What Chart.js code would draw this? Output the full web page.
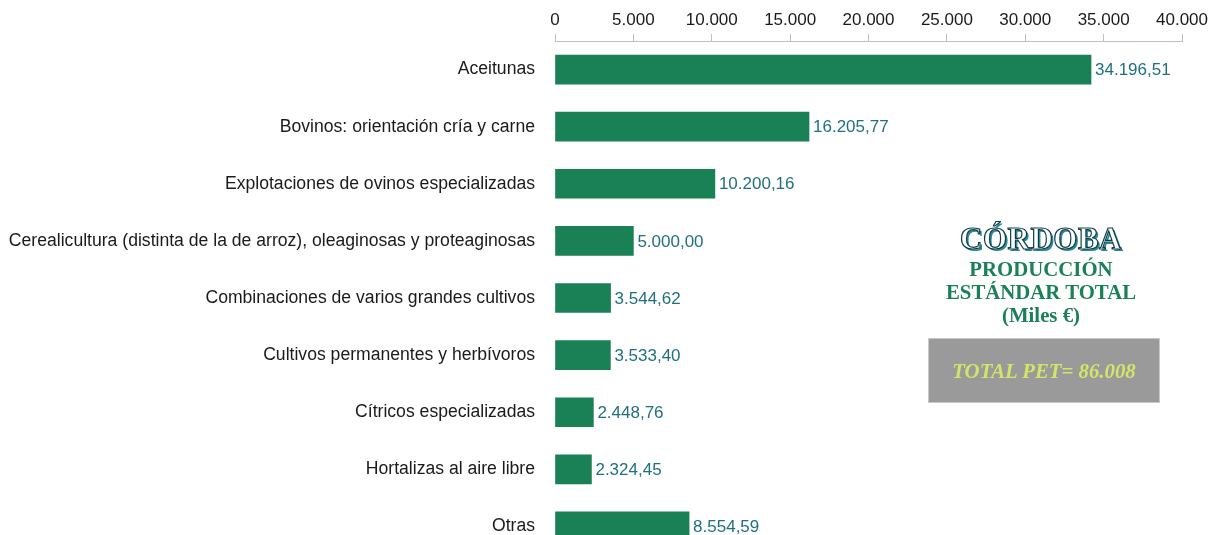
<!DOCTYPE html>
<html>
<head>
<meta charset="utf-8">
<script src="https://cdn.jsdelivr.net/npm/chart.js@4"></script>
<style>
  html, body { margin: 0; padding: 0; background: #fff; overflow: hidden; width: 1212px; height: 535px; }
  #wrap { position: relative; width: 1212px; height: 560px; }
  #box { position: absolute; left: 0; top: 1px; width: 1212px; height: 554px; }
  .side { position: absolute; text-align: center; font-family: "Liberation Serif", serif; font-weight: bold; }
  #titulo { left: 900px; top: 221px; width: 282px; font-size: 31px; color: #fff;
    -webkit-text-stroke: 1.2px #0b3b44; text-shadow: 2px 2px 0 #2a8a99; letter-spacing: 0.5px; }
  #sub { left: 900px; top: 257px; width: 282px; font-size: 20.8px; line-height: 23px; color: #1a8055; }
  #total { left: 928px; top: 338px; width: 232px; height: 65px; background: #9a9a9a;
    border: 1px solid #c8c8c8; box-sizing: border-box; line-height: 63px;
    font-size: 20.8px; font-style: italic; color: #d4e36a; }
</style>
</head>
<body>
<div id="wrap">
  <div id="box"><canvas id="chart"></canvas></div>
  <div class="side" id="titulo">CÓRDOBA</div>
  <div class="side" id="sub">PRODUCCIÓN<br>ESTÁNDAR TOTAL<br>(Miles €)</div>
  <div class="side" id="total">TOTAL PET= 86.008</div>
</div>
<script>
// categorías y valores (miles de euros)
const categorias = [
    'Aceitunas',
    'Bovinos: orientación cría y carne',
    'Explotaciones de ovinos especializadas',
    'Cerealicultura (distinta de la de arroz), oleaginosas y proteaginosas',
    'Combinaciones de varios grandes cultivos',
    'Cultivos permanentes y herbívoros',
    'Cítricos especializadas',
    'Hortalizas al aire libre',
    'Otras'
];
const valores = [34196.51, 16205.77, 10200.16, 5000.00, 3544.62, 3533.40, 2448.76, 2324.45, 8554.59];
const ejeMin = 0;
const ejeMax = 40000;
const ejePaso = 5000;

// formato español: punto para miles, coma para decimales
function formatoEs(v, dec) {
    const partes = v.toFixed(dec).split('.');
    partes[0] = partes[0].replace(/\B(?=(\d{3})+(?!\d))/g, '.');
    return partes.join(',');
}

// etiquetas de valor al final de cada barra
const etiquetasBarras = {
    id: 'etiquetasBarras',
    afterDatasetsDraw(chart) {
        const ctx = chart.ctx;
        const meta = chart.getDatasetMeta(0);
        ctx.save();
        ctx.font = '17px "Liberation Sans", Arial, sans-serif';
        ctx.fillStyle = '#1f7080';
        ctx.textAlign = 'left';
        ctx.textBaseline = 'middle';
        meta.data.forEach((bar, i) => {
            ctx.fillText(formatoEs(valores[i], 2), bar.x + 4, bar.y + 1);
        });
        ctx.restore();
    }
};

Chart.defaults.font.family = '"Liberation Sans", Arial, sans-serif';
Chart.defaults.font.size = 17;
Chart.defaults.color = '#1a1a1a';

const ctx = document.getElementById('chart').getContext('2d');
new Chart(ctx, {
    type: 'bar',
    data: {
        labels: categorias,
        datasets: [{
            data: valores,
            backgroundColor: '#1a8055',
            barThickness: 29
        }]
    },
    options: {
        indexAxis: 'y',
        responsive: true,
        maintainAspectRatio: false,
        animation: false,
        layout: { padding: { left: 0, right: 30, top: 0, bottom: 0 } },
        plugins: { legend: { display: false }, tooltip: { enabled: false } },
        scales: {
            x: {
                position: 'top',
                min: ejeMin, max: ejeMax,
                afterFit(scale) { scale.height = 40; },
                ticks: { stepSize: ejePaso, padding: 3, callback: v => formatoEs(v, 0), maxRotation: 0 },
                grid: { drawOnChartArea: false, tickLength: 7, color: '#bfbfbf' },
                border: { color: '#bfbfbf' }
            },
            y: {
                afterFit(scale) {
                    scale.width = 555;
                    scale.paddingTop = 0;
                    scale.paddingBottom = 0;
                },
                ticks: { padding: 12, font: { size: 17.6 } },
                grid: { display: false },
                border: { display: false }
            }
        }
    },
    plugins: [etiquetasBarras]
});
</script>
</body>
</html>
